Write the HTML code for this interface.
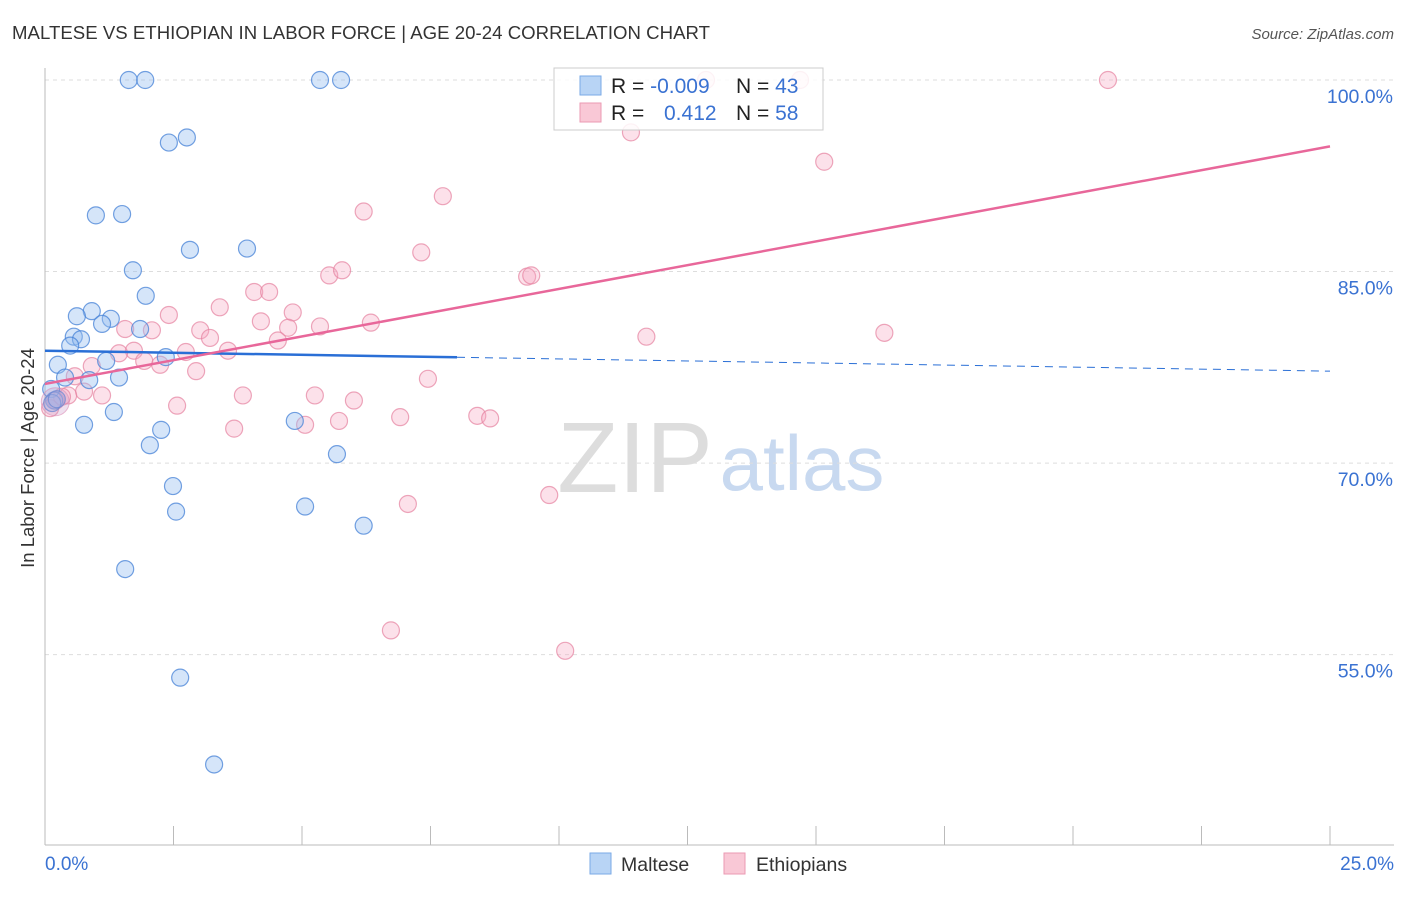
<!DOCTYPE html>
<html><head><meta charset="utf-8"><style>
body{margin:0;background:#fff;font-family:"Liberation Sans",sans-serif}
svg text{font-family:"Liberation Sans",sans-serif}
</style></head><body>
<svg id="c" width="1406" height="892">
<text x="12" y="39" font-size="18.6" fill="#333" textLength="698">MALTESE VS ETHIOPIAN IN LABOR FORCE | AGE 20-24 CORRELATION CHART</text>
<text x="1394" y="39" font-size="15" fill="#555" font-style="italic" text-anchor="end">Source: ZipAtlas.com</text>
<text x="0" y="0" transform="translate(34,458) rotate(-90)" font-size="18.5" fill="#333" text-anchor="middle">In Labor Force | Age 20-24</text>
<g><text x="635" y="492" font-size="100" fill="#ddd" font-family="Liberation Serif" text-anchor="middle">ZIP</text><text x="802" y="490" font-size="78" fill="#c8d9f0" text-anchor="middle">atlas</text></g>
<g id="grid"></g><g id="axes"></g><g id="pts"></g><g id="trend"></g>
<g>
<rect x="554" y="68" width="269" height="62" fill="#fff" fill-opacity="0.85" stroke="#ccc"/>
<rect x="580" y="76" width="21" height="19" fill="#b8d4f5" stroke="#7aaae6"/>
<rect x="580" y="103" width="21" height="19" fill="#f9c8d6" stroke="#eb9ab3"/>
<text x="611" y="93" font-size="21" fill="#222">R = <tspan fill="#3a72d2">-0.009</tspan></text>
<text x="736" y="93" font-size="21" fill="#222">N = <tspan fill="#3a72d2">43</tspan></text>
<text x="611" y="120" font-size="21" fill="#222">R = </text><text x="664" y="120" font-size="21" fill="#3a72d2">0.412</text>
<text x="736" y="120" font-size="21" fill="#222">N = <tspan fill="#3a72d2">58</tspan></text>
</g>
<g>
<rect x="590" y="853" width="21" height="21" fill="#b8d4f5" stroke="#7aaae6"/><text x="621" y="871" font-size="19.5" fill="#333">Maltese</text>
<rect x="724" y="853" width="21" height="21" fill="#f9c8d6" stroke="#eb9ab3"/><text x="756" y="871" font-size="19.5" fill="#333">Ethiopians</text>
</g>
</svg>
<script>
const xTickLabels=["0.0%","25.0%"];
const yTicks=[100,85,70,55];
const malteseX=[1.63,1.95,5.35,5.76,2.41,2.76,0.99,1.50,2.82,3.93,1.71,1.96,0.91,0.62,1.28,1.11,1.85,0.56,0.70,0.49,2.35,1.19,0.25,0.39,0.86,1.44,0.12,0.18,1.34,0.76,4.86,2.26,2.04,5.68,2.49,2.55,5.06,6.20,1.56,2.63,3.29,0.14,0.23];
const malteseY=[100,100,100,100,95.1,95.5,89.4,89.5,86.7,86.8,85.1,83.1,81.9,81.5,81.3,80.9,80.5,79.9,79.7,79.2,78.3,78.0,77.7,76.7,76.5,76.7,75.8,74.9,74.0,73.0,73.3,72.6,71.4,70.7,68.2,66.2,66.6,65.1,61.7,53.2,46.4,74.7,75.0];
const ethX=[12.86,14.69,20.68,11.40,15.16,7.74,6.20,7.32,5.53,5.78,9.38,9.46,4.07,4.36,3.40,2.41,4.82,4.20,5.35,6.34,1.56,2.08,4.73,3.02,3.21,4.53,11.70,16.33,1.73,1.44,2.74,3.56,1.93,0.91,2.24,2.94,0.58,7.45,0.76,1.11,3.85,5.25,6.01,0.45,2.57,6.91,5.72,8.41,8.66,5.06,3.68,9.81,7.06,6.73,10.12,0.10,0.21,0.33];
const ethY=[100,100,100,95.9,93.6,90.9,89.7,86.5,84.7,85.1,84.6,84.7,83.4,83.4,82.2,81.6,81.8,81.1,80.7,81.0,80.5,80.4,80.6,80.4,79.8,79.6,79.9,80.2,78.8,78.6,78.7,78.8,78.0,77.6,77.7,77.2,76.8,76.6,75.6,75.3,75.3,75.3,74.9,75.3,74.5,73.6,73.3,73.7,73.5,73.0,72.7,67.5,66.8,56.9,55.3,74.3,74.9,75.2];
const blueTrend=[78.8,77.2];
const pinkTrend=[76.2,94.8];
const X0=45,X1=1330,Y100=80,PPU=12.77;
const sx=v=>X0+(v/25)*(X1-X0);
const sy=v=>Y100+(100-v)*PPU;
const NS="http://www.w3.org/2000/svg";
function mk(t,a,p){const e=document.createElementNS(NS,t);for(const k in a)e.setAttribute(k,a[k]);p.appendChild(e);return e;}
const grid=document.getElementById('grid'),axes=document.getElementById('axes'),pts=document.getElementById('pts'),tr=document.getElementById('trend');
yTicks.forEach(v=>{
 const l=mk('line',{x1:X0,x2:1394,y1:sy(v),y2:sy(v),stroke:'#ddd','stroke-dasharray':'4,4'},grid);
 
 
 const t=mk('text',{x:1393,y:sy(v)+23,'font-size':19.5,fill:'#3a72d2','text-anchor':'end'},grid);
 t.textContent=v.toFixed(1)+'%';
 
 
});
const ax=mk('line',{x1:X0,x2:X0,y1:68,y2:845,stroke:'#bbb'},axes);


const bx=mk('line',{x1:X0,x2:1394,y1:845,y2:845,stroke:'#bbb'},axes);


for(let i=0;i<=10;i++){const x=X0+i*(X1-X0)/10;const tk=mk('line',{x1:x,x2:x,y1:826,y2:845,stroke:'#bbb'},axes);
 
 }
xTickLabels.forEach((s,i)=>{const t=mk('text',{x:i?1394:45,y:870,'font-size':19,fill:'#3a72d2','text-anchor':i?'end':'start'},axes);t.textContent=s;
 
 });
function dots(xs,ys,fill,stroke,name){xs.forEach((x,i)=>{const c=mk('circle',{cx:sx(x),cy:sy(ys[i]),r:8.5,fill:fill,stroke:stroke,'stroke-width':1.2},pts);
 
 });}
dots(ethX,ethY,'rgba(245,170,195,0.35)','rgba(230,130,160,0.7)','ethiopian-point');
dots(malteseX,malteseY,'rgba(150,190,240,0.4)','rgba(70,130,215,0.75)','maltese-point');
const bigc=mk('circle',{cx:sx(0.2),cy:sy(74.8),r:14,fill:'rgba(200,150,200,0.3)',stroke:'rgba(220,140,180,0.6)'},pts);


const xe=(457-X0)/(X1-X0)*25,bm=blueTrend[0]+(blueTrend[1]-blueTrend[0])*xe/25;
const b1=mk('line',{x1:sx(0),y1:sy(blueTrend[0]),x2:sx(xe),y2:sy(bm),stroke:'#2a6fd6','stroke-width':2.5},tr);


const b2=mk('line',{x1:sx(xe),y1:sy(bm),x2:sx(25),y2:sy(blueTrend[1]),stroke:'#2a6fd6','stroke-width':1,'stroke-dasharray':'8,6'},tr);


const p1=mk('line',{x1:sx(0),y1:sy(pinkTrend[0]),x2:sx(25),y2:sy(pinkTrend[1]),stroke:'#e8679a','stroke-width':2.5},tr);


</script>
</body></html>
